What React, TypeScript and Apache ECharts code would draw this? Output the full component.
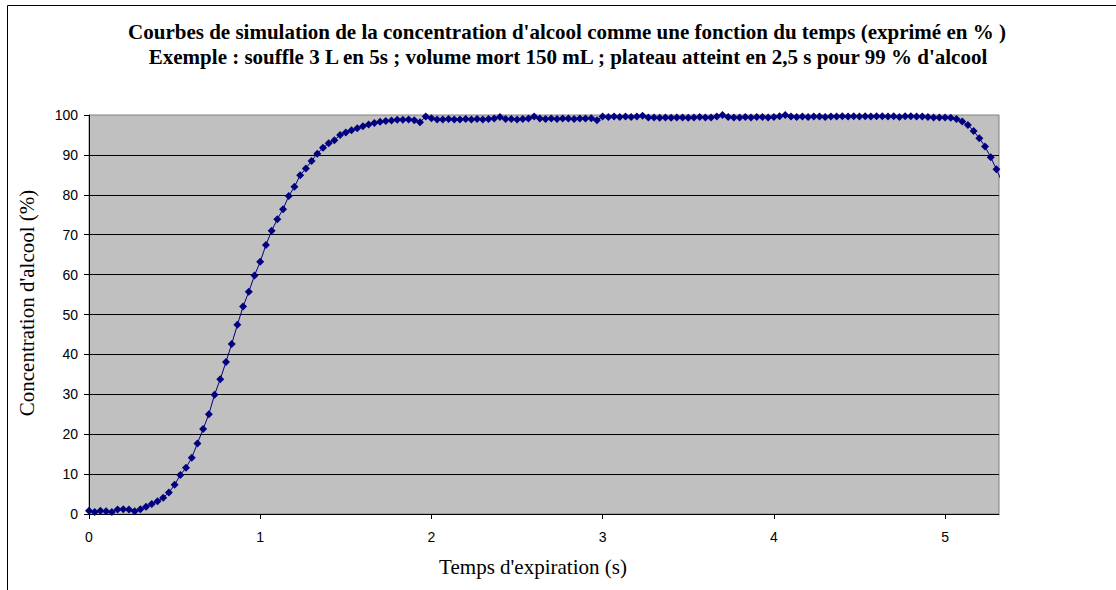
import React, { useEffect, useRef } from "react";
import * as echarts from "echarts";

const TITLE_LINES = [
  "Courbes de simulation de la concentration d'alcool comme une fonction du temps (exprimé en % )",
  "Exemple : souffle 3 L en 5s ; volume mort 150 mL ; plateau atteint en 2,5 s pour 99 % d'alcool",
];
const X_NAME = "Temps d'expiration (s)";
const Y_NAME = "Concentration d'alcool (%)";

const SAMPLE_INTERVAL_S = 1 / 30;

// alcohol concentration (%) at each sample
const CONCENTRATION = [
  0.8, 0.5, 0.8, 0.7, 0.5, 1.1, 1.2, 1.1, 0.7, 1.2,
  1.8, 2.5, 3.2, 4.1, 5.4, 7.3, 9.8, 11.6, 14.1, 17.7,
  21.3, 25.0, 29.9, 33.8, 38.1, 42.6, 47.4, 52.0, 55.7, 59.8,
  63.2, 67.4, 71.0, 73.9, 76.4, 79.7, 82.0, 84.9, 86.6, 88.5,
  90.3, 91.8, 92.9, 93.7, 95.0, 95.6, 96.2, 96.7, 97.2, 97.6,
  98.0, 98.3, 98.5, 98.6, 98.8, 98.8, 98.9, 98.7, 98.2, 99.6,
  99.2, 98.9, 98.9, 99.0, 98.9, 98.9, 99.0, 98.9, 99.0, 98.9,
  99.0, 99.1, 99.5, 99.0, 99.0, 98.9, 99.0, 99.1, 99.6, 99.1,
  99.0, 99.1, 99.0, 99.1, 99.1, 99.0, 99.1, 99.1, 99.2, 98.7,
  99.6, 99.5, 99.6, 99.5, 99.6, 99.5, 99.6, 99.8, 99.4, 99.4,
  99.3, 99.4, 99.3, 99.4, 99.4, 99.3, 99.4, 99.5, 99.4, 99.4,
  99.6, 100.0, 99.5, 99.4, 99.4, 99.5, 99.4, 99.5, 99.5, 99.4,
  99.5, 99.7, 100.0, 99.6, 99.5, 99.6, 99.5, 99.6, 99.6, 99.5,
  99.6, 99.6, 99.7, 99.6, 99.7, 99.6, 99.7, 99.6, 99.7, 99.7,
  99.6, 99.7, 99.5, 99.7, 99.7, 99.6, 99.6, 99.5, 99.4, 99.4,
  99.4, 99.3, 99.0, 98.4, 97.5, 96.0, 94.2, 92.1, 89.4, 86.4,
];
// next sample, just past the plot edge (drawn without a marker)
const TAIL_POINT = [5.35, 81.5];

const X_MAX = 5.315;
const X_TICKS = [0, 1, 2, 3, 4, 5];
const Y_MIN = 0;
const Y_MAX = 100;
const Y_INTERVAL = 10;

const NAVY = "#000080";

export default function App() {
  const ref = useRef<HTMLDivElement>(null);

  useEffect(() => {
    if (!ref.current) return;
    const chart = echarts.init(ref.current, null, { renderer: "svg" });

    const points: any[] = CONCENTRATION.map((v, i) => [i * SAMPLE_INTERVAL_S, v]);
    points.push({ value: TAIL_POINT, symbol: "none" });

    chart.setOption({
      animation: false,
      backgroundColor: "#ffffff",
      grid: {
        left: 89,
        top: 115,
        right: 117,
        bottom: 76,
        show: true,
        backgroundColor: "#C0C0C0",
        borderColor: "#808080",
        borderWidth: 1,
      },
      xAxis: {
        type: "value",
        min: 0,
        max: X_MAX,
        axisLine: { show: true, lineStyle: { color: "#000", width: 1 } },
        axisTick: {
          show: true,
          length: 5,
          customValues: X_TICKS,
          lineStyle: { color: "#000" },
        },
        axisLabel: {
          customValues: X_TICKS,
          margin: 16,
          color: "#000",
          fontFamily: "Liberation Sans",
          fontSize: 14,
        },
        splitLine: { show: false },
      },
      yAxis: {
        type: "value",
        min: Y_MIN,
        max: Y_MAX,
        interval: Y_INTERVAL,
        axisLine: { show: true, lineStyle: { color: "#000", width: 1 } },
        axisTick: { show: true, length: 5, lineStyle: { color: "#000" } },
        axisLabel: {
          margin: 11,
          color: "#000",
          fontFamily: "Liberation Sans",
          fontSize: 14,
        },
        splitLine: {
          show: true,
          showMaxLine: false,
          lineStyle: { color: "#000", width: 1 },
        },
      },
      series: [
        {
          type: "line",
          data: points,
          clip: false,
          symbol: "diamond",
          symbolSize: 8,
          showSymbol: true,
          itemStyle: { color: NAVY },
          lineStyle: { color: NAVY, width: 1 },
        },
      ],
      graphic: [
        {
          type: "rect",
          shape: { x: 7.5, y: 5.5, width: 1300, height: 800 },
          style: { fill: "none", stroke: "#000", lineWidth: 1 },
          silent: true,
        },
        {
          type: "text",
          x: 567,
          y: 32,
          style: {
            text: TITLE_LINES[0],
            font: "bold 21px 'Liberation Serif'",
            fill: "#000",
            textAlign: "center",
            textVerticalAlign: "middle",
          },
        },
        {
          type: "text",
          x: 568,
          y: 57,
          style: {
            text: TITLE_LINES[1],
            font: "bold 21px 'Liberation Serif'",
            fill: "#000",
            textAlign: "center",
            textVerticalAlign: "middle",
          },
        },
        {
          type: "text",
          x: 533,
          y: 567,
          style: {
            text: X_NAME,
            font: "21px 'Liberation Serif'",
            fill: "#000",
            textAlign: "center",
            textVerticalAlign: "middle",
          },
        },
        {
          type: "text",
          x: 27,
          y: 303,
          rotation: Math.PI / 2,
          style: {
            text: Y_NAME,
            font: "21px 'Liberation Serif'",
            fill: "#000",
            textAlign: "center",
            textVerticalAlign: "middle",
          },
        },
      ],
    });

    return () => chart.dispose();
  }, []);

  return (
    <div
      ref={ref}
      style={{ position: "absolute", left: 0, top: 0, width: 1116, height: 590 }}
    />
  );
}
